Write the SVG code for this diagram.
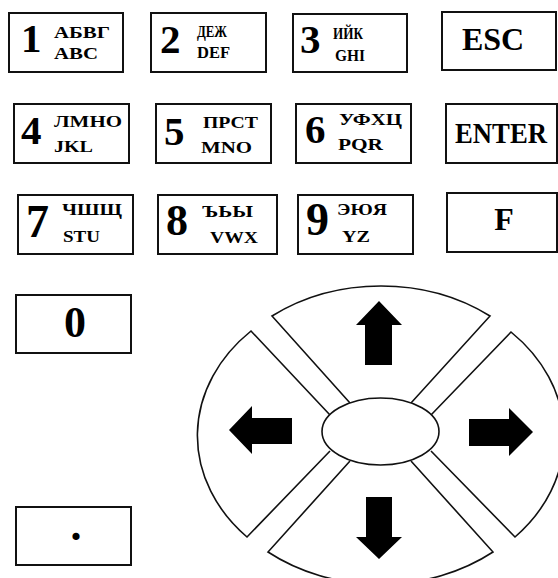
<svg xmlns="http://www.w3.org/2000/svg" width="558" height="578" viewBox="0 0 558 578">
<style>
.k{fill:#fff;stroke:#111;stroke-width:2}
.d{font-family:"Liberation Serif","Times New Roman",serif;font-weight:bold;fill:#000}
.s{font-family:"Liberation Serif","Times New Roman",serif;font-weight:bold;fill:#000;font-size:16px}
.seg{fill:none;stroke:#111;stroke-width:1.6}
.ar{fill:#000}
</style>
<rect width="558" height="578" fill="#fff"/>
<g id="key1"><rect class="k" x="9" y="13" width="114" height="59"/><text class="d" x="21" y="52" font-size="41">1</text><text class="s" x="54" y="38" textLength="56" lengthAdjust="spacingAndGlyphs">АБВГ</text><text class="s" x="54" y="59" textLength="44" lengthAdjust="spacingAndGlyphs">ABC</text></g>
<g id="key2"><rect class="k" x="151" y="13" width="115" height="59"/><text class="d" x="160" y="53" font-size="41">2</text><text class="s" x="197" y="37" textLength="30" lengthAdjust="spacingAndGlyphs">ДЕЖ</text><text class="s" x="197" y="58" textLength="33" lengthAdjust="spacingAndGlyphs">DEF</text></g>
<g id="key3"><rect class="k" x="293" y="14" width="114" height="58"/><text class="d" x="300" y="53" font-size="41">3</text><text class="s" x="333" y="39" textLength="30" lengthAdjust="spacingAndGlyphs">ИЙК</text><text class="s" x="335" y="61" textLength="30" lengthAdjust="spacingAndGlyphs">GHI</text></g>
<g id="keyESC"><rect class="k" x="442" y="12" width="114" height="58"/><text class="d" x="493" y="50" font-size="32" text-anchor="middle">ESC</text></g>
<g id="key4"><rect class="k" x="14" y="104" width="115" height="59"/><text class="d" x="21" y="144" font-size="41">4</text><text class="s" x="54" y="127" textLength="68" lengthAdjust="spacingAndGlyphs">ЛМНО</text><text class="s" x="54" y="152" textLength="39" lengthAdjust="spacingAndGlyphs">JKL</text></g>
<g id="key5"><rect class="k" x="156" y="104" width="115" height="59"/><text class="d" x="164" y="145" font-size="41">5</text><text class="s" x="203" y="128" textLength="55" lengthAdjust="spacingAndGlyphs">ПРСТ</text><text class="s" x="201" y="153" textLength="51" lengthAdjust="spacingAndGlyphs">MNO</text></g>
<g id="key6"><rect class="k" x="296" y="104" width="115" height="59"/><text class="d" x="305" y="143" font-size="41">6</text><text class="s" x="339" y="125" textLength="63" lengthAdjust="spacingAndGlyphs">УФХЦ</text><text class="s" x="338" y="150" textLength="45" lengthAdjust="spacingAndGlyphs">PQR</text></g>
<g id="keyENTER"><rect class="k" x="446" y="104" width="111" height="59"/><text class="d" x="501" y="143" font-size="30" text-anchor="middle" textLength="92" lengthAdjust="spacingAndGlyphs">ENTER</text></g>
<g id="key7"><rect class="k" x="18" y="195" width="115" height="59"/><text class="d" x="26" y="237" font-size="46">7</text><text class="s" x="62" y="215" textLength="60" lengthAdjust="spacingAndGlyphs">ЧШЩ</text><text class="s" x="63" y="242" textLength="37" lengthAdjust="spacingAndGlyphs">STU</text></g>
<g id="key8"><rect class="k" x="158" y="195" width="119" height="59"/><text class="d" x="166" y="235" font-size="44">8</text><text class="s" x="202" y="217" textLength="51" lengthAdjust="spacingAndGlyphs">ЪЬЫ</text><text class="s" x="210" y="243" textLength="48" lengthAdjust="spacingAndGlyphs">VWX</text></g>
<g id="key9"><rect class="k" x="298" y="195" width="115" height="59"/><text class="d" x="306" y="235" font-size="46">9</text><text class="s" x="337" y="215" textLength="50" lengthAdjust="spacingAndGlyphs">ЭЮЯ</text><text class="s" x="342" y="242" textLength="28" lengthAdjust="spacingAndGlyphs">YZ</text></g>
<g id="keyF"><rect class="k" x="447" y="193" width="110" height="59"/><text class="d" x="504" y="230" font-size="32" text-anchor="middle">F</text></g>
<g id="key0"><rect class="k" x="16" y="295" width="115" height="58"/><text class="d" x="75" y="337" font-size="44" text-anchor="middle">0</text></g>
<g id="keyDot"><rect class="k" x="16" y="507" width="115" height="58"/><text class="d" x="76" y="540" font-size="44" text-anchor="middle">.</text></g>
<g id="dpad">
<g id="up"><path class="seg" d="M350,403 L272,316 A180,147 0 0 1 490,316 L411,403"/><polygon class="ar" points="379,301 402,325 392,325 392,365 365,365 365,325 356,325"/></g>
<g id="down"><path class="seg" d="M350,461 L268,552 A180,147 0 0 0 493,552 L411,461"/><polygon class="ar" points="379,559 402,537 392,537 392,497 366,497 366,537 356,537"/></g>
<g id="left"><path class="seg" d="M330,415 L251,331 A180,147 0 0 0 247,537 L330,451"/><polygon class="ar" points="229,430 252,406 252,418 292,418 292,444 252,444 252,454"/></g>
<g id="right"><path class="seg" d="M431,415 L511,332 A180,147 0 0 1 515,537 L431,451"/><polygon class="ar" points="533,432 509,408 509,419 469,419 469,446 509,446 509,456"/></g>
<g id="center"><ellipse cx="380.5" cy="431.5" rx="58.5" ry="33.5" fill="#fff" stroke="#111" stroke-width="1.6"/></g>
</g>
</svg>
